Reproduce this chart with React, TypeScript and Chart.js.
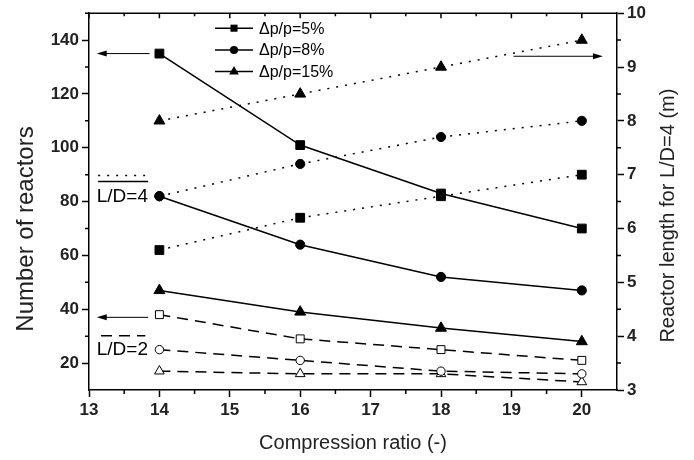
import React, { useEffect, useRef } from 'react';
import { Chart, registerables } from 'chart.js';

Chart.register(...registerables);

// ---- data ----
const compressionRatios = [14, 16, 18, 20];
// Number of reactors, L/D = 4 (left axis, solid lines, filled markers)
const reactorsLD4_5 = [135, 101, 83, 70];
const reactorsLD4_8 = [82, 64, 52, 47];
const reactorsLD4_15 = [47, 39, 33, 28];
// Number of reactors, L/D = 2 (left axis, dashed lines, open markers)
const reactorsLD2_5 = [38, 29, 25, 21];
const reactorsLD2_8 = [25, 21, 17, 16];
const reactorsLD2_15 = [17, 16, 16, 13];
// Reactor length for L/D = 4 (right axis, dotted lines)
const length_5 = [5.6, 6.2, 6.6, 7.0];
const length_8 = [6.6, 7.2, 7.7, 8.0];
const length_15 = [8.0, 8.5, 9.0, 9.5];

const xTicks = [13, 14, 15, 16, 17, 18, 19, 20];
const xMinorTicks = [13.5, 14.5, 15.5, 16.5, 17.5, 18.5, 19.5];
const leftTicks = [20, 40, 60, 80, 100, 120, 140];
const leftMinorTicks = [30, 50, 70, 90, 110, 130, 150];
const rightTicks = [3, 4, 5, 6, 7, 8, 9, 10];
const rightMinorTicks = [3.5, 4.5, 5.5, 6.5, 7.5, 8.5, 9.5];
const legendLabels = ['\u0394p/p=5%', '\u0394p/p=8%', '\u0394p/p=15%'];

const FONT = '"Liberation Sans", Arial, Helvetica, sans-serif';
const DOT = [2, 7];
const DASH = [11, 7];

type Marker = 'rect' | 'circle' | 'triangle';

function markerRadius(m: Marker, filled: boolean) {
  if (m === 'rect') return filled ? 6.2 : 5.6;
  if (m === 'circle') return filled ? 4.6 : 4.2;
  return filled ? 6.3 : 5.6;
}

function makeDataset(label: string, ys: number[], axis: string, dash: number[], marker: Marker, filled: boolean) {
  return {
    label,
    data: compressionRatios.map((x, i) => ({ x, y: ys[i] })),
    yAxisID: axis,
    borderColor: '#000',
    borderWidth: 1.5,
    borderDash: dash,
    borderCapStyle: 'butt',
    pointStyle: marker,
    pointRadius: markerRadius(marker, filled),
    pointBackgroundColor: filled ? '#000' : '#fff',
    pointBorderColor: '#000',
    pointBorderWidth: 1,
    tension: 0,
    fill: false,
  };
}

function drawMarker(ctx: CanvasRenderingContext2D, m: Marker, x: number, y: number, r: number) {
  ctx.beginPath();
  if (m === 'rect') {
    const s = Math.SQRT1_2 * r;
    ctx.rect(x - s, y - s, 2 * s, 2 * s);
  } else if (m === 'circle') {
    ctx.arc(x, y, r, 0, Math.PI * 2);
  } else {
    let a = 0;
    ctx.moveTo(x + Math.sin(a) * r, y - Math.cos(a) * r);
    a += (2 * Math.PI) / 3;
    ctx.lineTo(x + Math.sin(a) * r, y - Math.cos(a) * r);
    a += (2 * Math.PI) / 3;
    ctx.lineTo(x + Math.sin(a) * r, y - Math.cos(a) * r);
    ctx.closePath();
  }
  ctx.fill();
}

function arrow(ctx: CanvasRenderingContext2D, x0: number, y0: number, x1: number, y1: number) {
  const ang = Math.atan2(y1 - y0, x1 - x0);
  const len = 10;
  const hw = 3;
  ctx.beginPath();
  ctx.moveTo(x0, y0);
  ctx.lineTo(x1 - Math.cos(ang) * len * 0.8, y1 - Math.sin(ang) * len * 0.8);
  ctx.stroke();
  ctx.beginPath();
  ctx.moveTo(x1, y1);
  ctx.lineTo(x1 - Math.cos(ang) * len - Math.sin(ang) * hw, y1 - Math.sin(ang) * len + Math.cos(ang) * hw);
  ctx.lineTo(x1 - Math.cos(ang) * len + Math.sin(ang) * hw, y1 - Math.sin(ang) * len - Math.cos(ang) * hw);
  ctx.closePath();
  ctx.fill();
}

const decorPlugin = {
  id: 'decor',
  afterDraw(chart: any) {
    const { ctx, chartArea: ca, scales } = chart;
    const sx = scales.x;
    const yl = scales.y;
    const yr = scales.y1;
    ctx.save();
    ctx.strokeStyle = '#000';
    ctx.fillStyle = '#000';
    ctx.lineWidth = 1.5;
    ctx.setLineDash([]);

    // top frame line with inward ticks
    ctx.beginPath();
    ctx.moveTo(ca.left, ca.top);
    ctx.lineTo(ca.right, ca.top);
    ctx.stroke();
    ctx.beginPath();
    xTicks.forEach((v) => {
      const px = sx.getPixelForValue(v);
      ctx.moveTo(px, ca.top);
      ctx.lineTo(px, ca.top + 5);
    });
    xMinorTicks.forEach((v) => {
      const px = sx.getPixelForValue(v);
      ctx.moveTo(px, ca.top);
      ctx.lineTo(px, ca.top + 3);
    });
    ctx.stroke();

    // minor ticks (outward)
    ctx.beginPath();
    xMinorTicks.forEach((v) => {
      const px = sx.getPixelForValue(v);
      ctx.moveTo(px, ca.bottom);
      ctx.lineTo(px, ca.bottom + 4);
    });
    leftMinorTicks.forEach((v) => {
      const py = yl.getPixelForValue(v);
      ctx.moveTo(ca.left, py);
      ctx.lineTo(ca.left - 4, py);
    });
    rightMinorTicks.forEach((v) => {
      const py = yr.getPixelForValue(v);
      ctx.moveTo(ca.right, py);
      ctx.lineTo(ca.right + 4, py);
    });
    ctx.stroke();

    // legend
    const markers: Marker[] = ['rect', 'circle', 'triangle'];
    const legR = [5, 4, 5.6];
    ctx.font = `16px ${FONT}`;
    ctx.textBaseline = 'middle';
    ctx.textAlign = 'left';
    legendLabels.forEach((lab, i) => {
      const ly = ca.top + 15 + i * 21.7;
      const lx0 = ca.left + 126;
      ctx.lineWidth = 1.5;
      ctx.beginPath();
      ctx.moveTo(lx0, ly);
      ctx.lineTo(lx0 + 38, ly);
      ctx.stroke();
      drawMarker(ctx, markers[i], lx0 + 19, ly, legR[i]);
      ctx.fillText(lab, lx0 + 44, ly + 1);
    });

    // arrows
    ctx.lineWidth = 1;
    arrow(ctx, sx.getPixelForValue(13.86), yl.getPixelForValue(135), sx.getPixelForValue(13.11), yl.getPixelForValue(135));
    arrow(ctx, sx.getPixelForValue(13.84), yl.getPixelForValue(37), sx.getPixelForValue(13.11), yl.getPixelForValue(37));
    arrow(ctx, sx.getPixelForValue(19.03), yr.getPixelForValue(9.2), sx.getPixelForValue(20.3), yr.getPixelForValue(9.2));

    // L/D = 4 key
    const kx0 = sx.getPixelForValue(13.13);
    const kx1 = sx.getPixelForValue(13.84);
    ctx.lineWidth = 1.5;
    ctx.setLineDash(DOT);
    ctx.beginPath();
    ctx.moveTo(kx0, yl.getPixelForValue(89.7));
    ctx.lineTo(kx1, yl.getPixelForValue(89.7));
    ctx.stroke();
    ctx.setLineDash([]);
    ctx.beginPath();
    ctx.moveTo(kx0, yl.getPixelForValue(87.5));
    ctx.lineTo(kx1, yl.getPixelForValue(87.5));
    ctx.stroke();
    ctx.font = `19px ${FONT}`;
    ctx.fillText('L/D=4', sx.getPixelForValue(13.11), yl.getPixelForValue(82.3) + 1);

    // L/D = 2 key
    ctx.setLineDash(DASH);
    ctx.beginPath();
    ctx.moveTo(sx.getPixelForValue(13.17), yl.getPixelForValue(30.2));
    ctx.lineTo(sx.getPixelForValue(13.8), yl.getPixelForValue(30.2));
    ctx.stroke();
    ctx.setLineDash([]);
    ctx.fillText('L/D=2', sx.getPixelForValue(13.11), yl.getPixelForValue(25.4) + 1);

    // axis titles
    ctx.textAlign = 'center';
    ctx.textBaseline = 'middle';
    ctx.fillStyle = '#222';
    ctx.font = `20px ${FONT}`;
    ctx.fillText('Compression ratio (-)', (ca.left + ca.right) / 2, 443);
    ctx.save();
    ctx.translate(668, (ca.top + ca.bottom) / 2 + 14);
    ctx.rotate(-Math.PI / 2);
    ctx.fillText('Reactor length for L/D=4 (m)', 0, 0);
    ctx.restore();
    ctx.font = `24px ${FONT}`;
    ctx.save();
    ctx.translate(26, 229);
    ctx.rotate(-Math.PI / 2);
    ctx.fillText('Number of reactors', 0, 0);
    ctx.restore();

    ctx.restore();
  },
};

export default function App() {
  const canvasRef = useRef<HTMLCanvasElement | null>(null);

  useEffect(() => {
    const canvas = canvasRef.current;
    if (!canvas) return;
    const tickFont = { family: FONT, size: 17, weight: 'bold' as const };
    const gridOpts = {
      display: true,
      drawOnChartArea: false,
      drawTicks: true,
      tickLength: 7,
      tickWidth: 1.5,
      tickColor: '#000',
    };
    const borderOpts = { display: true, color: '#000', width: 1.5 };

    const chart = new Chart(canvas, {
      type: 'line',
      data: {
        datasets: [
          makeDataset('5% L/D=4', reactorsLD4_5, 'y', [], 'rect', true),
          makeDataset('8% L/D=4', reactorsLD4_8, 'y', [], 'circle', true),
          makeDataset('15% L/D=4', reactorsLD4_15, 'y', [], 'triangle', true),
          makeDataset('5% L/D=2', reactorsLD2_5, 'y', DASH, 'rect', false),
          makeDataset('8% L/D=2', reactorsLD2_8, 'y', DASH, 'circle', false),
          makeDataset('15% L/D=2', reactorsLD2_15, 'y', DASH, 'triangle', false),
          makeDataset('5% length', length_5, 'y1', DOT, 'rect', true),
          makeDataset('8% length', length_8, 'y1', DOT, 'circle', true),
          makeDataset('15% length', length_15, 'y1', DOT, 'triangle', true),
        ] as any,
      },
      options: {
        animation: false,
        responsive: false,
        devicePixelRatio: 1,
        layout: { padding: { top: 12, left: 0, right: 0, bottom: 0 } },
        plugins: {
          legend: { display: false },
          tooltip: { enabled: false },
        },
        scales: {
          x: {
            type: 'linear',
            position: 'bottom',
            min: 13,
            max: 20.5,
            afterBuildTicks: (s: any) => {
              s.ticks = xTicks.map((v) => ({ value: v }));
            },
            afterFit: (s: any) => {
              s.height = 70;
            },
            ticks: { font: tickFont, color: '#222', padding: 3, maxRotation: 0, autoSkip: false },
            grid: gridOpts,
            border: borderOpts,
          },
          y: {
            type: 'linear',
            position: 'left',
            min: 10,
            max: 150,
            afterBuildTicks: (s: any) => {
              s.ticks = leftTicks.map((v) => ({ value: v }));
            },
            afterFit: (s: any) => {
              s.width = 89;
            },
            ticks: { font: tickFont, color: '#222', padding: 3, autoSkip: false },
            grid: gridOpts,
            border: borderOpts,
          },
          y1: {
            type: 'linear',
            position: 'right',
            min: 3,
            max: 10,
            afterBuildTicks: (s: any) => {
              s.ticks = rightTicks.map((v) => ({ value: v }));
            },
            afterFit: (s: any) => {
              s.width = 77;
            },
            ticks: { font: tickFont, color: '#222', padding: 3, autoSkip: false },
            grid: gridOpts,
            border: borderOpts,
          },
        },
      } as any,
      plugins: [decorPlugin],
    });
    return () => chart.destroy();
  }, []);

  return (
    <div style={{ position: 'absolute', left: 0, top: 0, width: 694, height: 460, background: '#fff' }}>
      <canvas ref={canvasRef} width={694} height={460} style={{ display: 'block' }} />
    </div>
  );
}
